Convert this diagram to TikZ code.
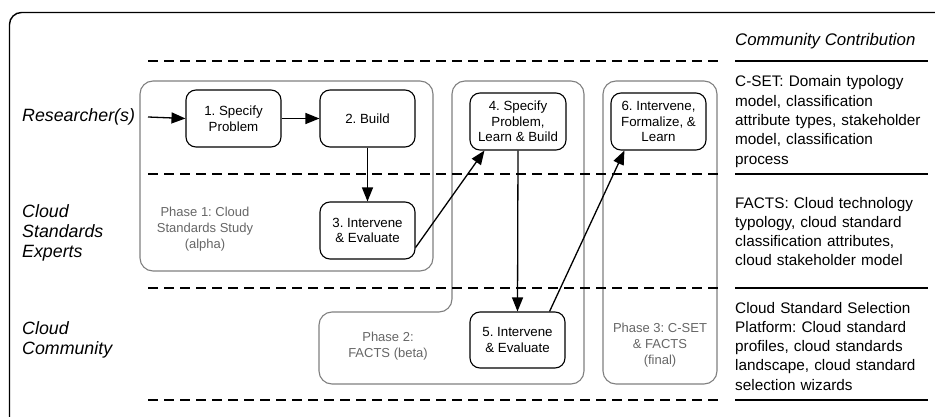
\documentclass[tikz,border=0pt]{standalone}
\usepackage{fontspec}
\setmainfont{Liberation Sans}
\usetikzlibrary{arrows.meta,calc}
\definecolor{phasegray}{HTML}{808080}
\definecolor{phasetext}{HTML}{666666}
\frenchspacing
\tikzset{
  stepbox/.style={draw=black, line width=1.1pt, rounded corners=10pt, align=center,
    minimum width=95pt, minimum height=57pt, inner sep=0pt,
    font=\fontsize{13.3}{15.5}\selectfont},
  phaseframe/.style={draw=phasegray, line width=1.1pt, rounded corners=13pt},
  phaselabel/.style={align=center, text=phasetext, inner sep=0pt,
    font=\fontsize{13}{16}\selectfont},
  lanelabel/.style={align=left, anchor=west, inner sep=0pt,
    font=\fontsize{17.8}{20}\selectfont\itshape},
  contrib/.style={align=left, anchor=base west, inner sep=0pt, text width=200pt,
    font=\fontsize{15.3}{19.3}\selectfont},
  lanesep/.style={line width=1.4pt, dash pattern=on 10pt off 6pt},
  contribsep/.style={line width=1.4pt},
  flow/.style={line width=1.3pt, -{Triangle[length=14pt,width=11pt]}},
}
\begin{document}
\begin{tikzpicture}[x=1pt,y=-1pt]
\useasboundingbox (0,0) rectangle (935,417);
% outer frame
\draw[line width=1.4pt, rounded corners=12pt] (936,12.5) -- (9.5,12.5) -- (9.5,418);

% phase frames
\draw[phaseframe] (140,81) rectangle (433,271);
\draw[phaseframe] (452,81) -- (584,81) -- (584,384) -- (319,384) -- (319,312) -- (452,312) -- cycle;
\draw[phaseframe] (603,81) rectangle (717,384);

% lane separators
\foreach \yy in {61,174,288,400} {
  \draw[lanesep] (148,\yy) -- (718,\yy);
  \draw[contribsep] (735,\yy) -- (928,\yy);
}

% header
\node[anchor=base west, inner sep=0pt, font=\fontsize{16.8}{19}\selectfont\itshape] (hdr) at (735,46) {Community Contribution};

% lane labels
\node[lanelabel] (lr) at (22,117) {Researcher(s)};
\node[lanelabel] (le) at (22,232.5) {Cloud\\Standards\\Experts};
\node[lanelabel] (lc) at (22,340) {Cloud\\Community};

% contributions
\node[contrib] (c1) at (735,87) {C-SET: Domain typology\\model, classification\\attribute types, stakeholder\\model, classification\\process};
\node[contrib] (c2) at (735,208) {FACTS: Cloud technology\\typology, cloud standard\\classification attributes,\\cloud stakeholder model};
\node[contrib] (c3) at (735,313) {Cloud Standard Selection\\Platform: Cloud standard\\profiles, cloud standards\\landscape, cloud standard\\selection wizards};

% phase labels
\node[phaselabel] (p1) at (205,229.5) {Phase 1: Cloud\\Standards Study\\(alpha)};
\node[phaselabel] (p2) at (388,346) {Phase 2:\\FACTS (beta)};
\node[phaselabel] (p3) at (660,345) {Phase 3: C-SET\\\& FACTS\\(final)};

% steps
\node[stepbox] (b1) at (233.5,118.5) {1. Specify\\Problem};
\node[stepbox] (b2) at (367.5,118.5) {2. Build};
\node[stepbox] (b3) at (367.5,230.5) {3. Intervene\\\& Evaluate};
\node[stepbox, minimum width=96pt] (b4) at (518,121.5) {4. Specify\\Problem,\\Learn \& Build};
\node[stepbox] (b6) at (658.5,121.5) {6. Intervene,\\Formalize, \&\\Learn};
\node[stepbox, minimum height=56pt] (b5) at (517.5,340) {5. Intervene\\\& Evaluate};

% connectors
\coordinate (start) at (148,117);
\draw[flow] (start) -- (b1.west);
\draw[flow] (b1.east) -- (b2.west);
\draw[flow] (b2.south) -- (b3.north);
\draw[flow] ([yshift=12pt]b3.south east) -- ([xshift=15pt]b4.south west);
\draw[flow] (b4.south) -- (b5.north);
\draw[flow] ([xshift=-16pt]b5.north east) -- ([xshift=14pt]b6.south west);
\end{tikzpicture}
\end{document}
